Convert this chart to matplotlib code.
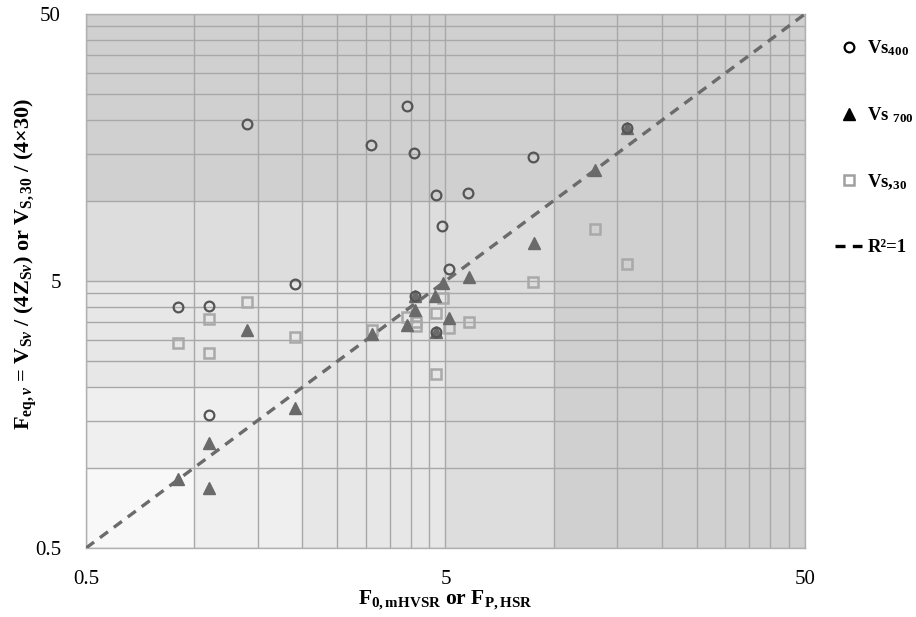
import numpy as np
import matplotlib
matplotlib.use('Agg')
import matplotlib.pyplot as plt
from matplotlib.lines import Line2D
from matplotlib.colors import ListedColormap
from matplotlib.ticker import NullFormatter

plt.rcParams['font.family'] = ['Liberation Serif', 'DejaVu Serif']
plt.rcParams['mathtext.fontset'] = 'custom'
plt.rcParams['mathtext.rm'] = 'Liberation Serif:bold'
plt.rcParams['mathtext.it'] = 'Liberation Serif:italic:bold'
plt.rcParams['mathtext.bf'] = 'Liberation Serif:bold'

# ---- data ----
vs400_x = [0.90, 1.10, 1.10, 1.40, 1.91, 3.10, 3.90, 4.09, 4.11, 4.70, 4.70, 4.89, 5.10, 5.77, 8.76, 15.95]
vs400_y = [4.01, 4.04, 1.57, 19.4, 4.87, 16.2, 22.7, 15.1, 4.39, 10.5, 3.23, 8.04, 5.53, 10.65, 14.6, 18.7]

vs700_x = [0.90, 1.10, 1.10, 1.40, 1.91, 3.12, 3.90, 4.11, 4.11, 4.66, 4.70, 4.91, 5.10, 5.80, 8.80, 13.0, 16.0]
vs700_y = [0.91, 1.24, 0.84, 3.28, 1.67, 3.17, 3.42, 4.39, 3.89, 4.39, 3.23, 4.90, 3.62, 5.16, 6.92, 13.0, 18.7]

vs30_x = [0.90, 1.10, 1.10, 1.40, 1.91, 3.12, 3.90, 4.13, 4.13, 4.70, 4.70, 4.91, 5.10, 5.80, 8.77, 13.0, 16.0]
vs30_y = [2.92, 3.60, 2.68, 4.18, 3.08, 3.28, 3.67, 3.52, 3.39, 3.80, 2.24, 4.31, 3.34, 3.50, 4.97, 7.85, 5.77]

one_to_one = [0.5, 50]
zone_edges = [0.5, 1, 2, 5, 10, 50]
zone_colors = ['#f8f8f8', '#efefef', '#e7e7e7', '#dddddd', '#d0d0d0']
grid_ticks = [0.5, 1, 1.5, 2, 2.5, 3, 3.5, 4, 4.5, 5,
              10, 15, 20, 25, 30, 35, 40, 45, 50]
major_ticks = [0.5, 5, 50]
major_labels = ['0.5', '5', '50']

fig = plt.figure(figsize=(9.16, 6.17), dpi=100)
ax = fig.add_axes([0.0939, 0.1118, 0.7849, 0.8655])
ax.set_xscale('log')
ax.set_yscale('log')

e = np.array(zone_edges)
idx = np.arange(len(e) - 1)
cls = np.maximum.outer(idx, idx)
ax.pcolormesh(e, e, cls, cmap=ListedColormap(zone_colors), vmin=-0.5,
              vmax=len(zone_colors) - 0.5, zorder=0, shading='flat')

ax.set_xlim(0.5, 50)
ax.set_ylim(0.5, 50)
for axis in (ax.xaxis, ax.yaxis):
    axis.set_minor_formatter(NullFormatter())
ax.set_xticks(grid_ticks, minor=True)
ax.set_yticks(grid_ticks, minor=True)
ax.set_xticks(major_ticks, labels=major_labels)
ax.set_yticks(major_ticks, labels=major_labels)
ax.grid(which='both', color='#a8a8a8', lw=1.0, zorder=1)
ax.set_axisbelow(True)
ax.tick_params(which='both', length=0, labelsize=15)
ax.tick_params(axis='x', pad=16)
ax.tick_params(axis='y', pad=18)
for s in ax.spines.values():
    s.set_color('#b0b0b0')
    s.set_linewidth(1.0)

ax.plot(vs30_x, vs30_y, ls='none', marker='s', ms=7, mfc='none', mec='#a9a9a9', mew=1.8, zorder=3)
ax.plot(vs700_x, vs700_y, ls='none', marker='^', ms=8, mfc='#6a6a6a', mec='#6a6a6a', zorder=4)
ax.plot(vs400_x, vs400_y, ls='none', marker='o', ms=7, mfc='none', mec='#555555', mew=1.6, zorder=5)
ax.plot(one_to_one, one_to_one, ls=(0, (3, 2.2)), color='#6b6b6b', lw=2.4, zorder=6)

fig.text(445 / 916, 1 - 600 / 617,
         r'$\mathrm{F}_{\mathrm{0,mHVSR}}$ or $\mathrm{F}_{\mathrm{P,HSR}}$',
         ha='center', va='center', fontsize=15.5, fontweight='bold')
fig.text(26 / 916, 1 - 264 / 617,
         r'$\mathrm{F}_{\mathrm{eq,}v}$ = $\mathrm{V}_{\mathrm{S}v}$ / (4$\mathrm{Z}_{\mathrm{S}v}$) or $\mathrm{V}_{\mathrm{S,30}}$ / (4×30)',
         ha='center', va='center', rotation=90, fontsize=16, fontweight='bold')

handles = [
    Line2D([], [], ls='none', marker='o', ms=7, mfc='none', mec='black', mew=1.6),
    Line2D([], [], ls='none', marker='^', ms=8, mfc='black', mec='black'),
    Line2D([], [], ls='none', marker='s', ms=7, mfc='none', mec='#a0a0a0', mew=1.8),
    Line2D([], [], ls=(0, (3, 2.2)), color='black', lw=2.4),
]
labels = [r'Vs$_{\mathrm{400}}$', r'Vs $_{\mathrm{700}}$', r'Vs,$_{\mathrm{30}}$', 'R²=1']
fig.legend(handles, labels, loc='upper left', bbox_to_anchor=(826 / 916, 1 - 29 / 617),
           frameon=False, labelspacing=2.52, handlelength=1.4, handletextpad=0.3,
           borderpad=0, prop={'family': 'Liberation Serif', 'weight': 'bold', 'size': 13.5})

fig.savefig('out.png', dpi=100)
